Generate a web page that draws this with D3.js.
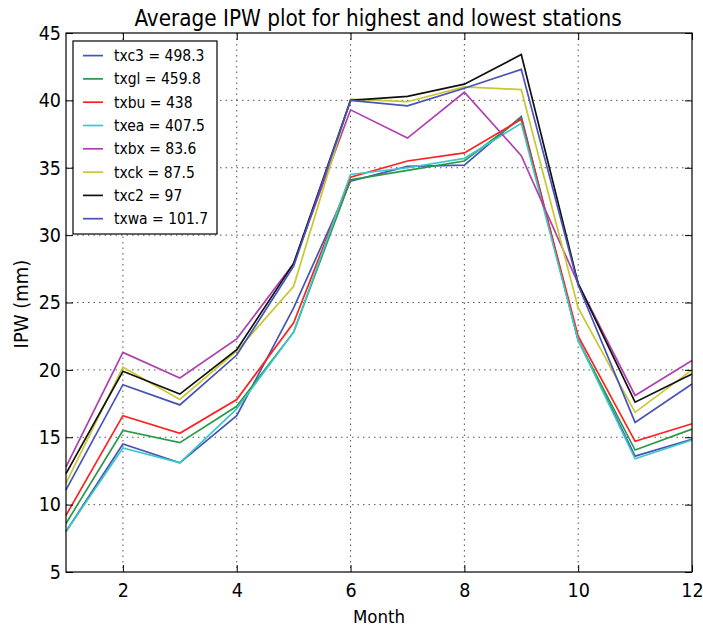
<!DOCTYPE html>
<html>
<head>
<meta charset="utf-8">
<script src="https://cdn.jsdelivr.net/npm/d3@7"></script>
<style>
  body { margin: 0; background: #fff; }
  text { font-family: "DejaVu Sans Condensed", "DejaVu Sans", sans-serif; }
</style>
</head>
<body>
<div class="chart"></div>
<script>
const months = [1, 2, 3, 4, 5, 6, 7, 8, 9, 10, 11, 12];
const stations = ["txc3 = 498.3", "txgl = 459.8", "txbu = 438", "txea = 407.5",
                  "txbx = 83.6", "txck = 87.5", "txc2 = 97", "txwa = 101.7"];
const colors = ["#4653b8", "#2a9a48", "#ff2020", "#3cc8c8", "#b040b0", "#c8c830", "#111111", "#4653b8"];

const txc3 = [8.0, 14.5, 13.1, 16.6, 24.6, 34.0, 35.1, 35.2, 38.8, 22.2, 13.6, 14.85];
const txgl = [8.6, 15.5, 14.6, 17.3, 22.8, 34.1, 34.8, 35.5, 38.7, 22.2, 14.05, 15.6];
const txbu = [9.2, 16.6, 15.3, 17.8, 23.5, 34.3, 35.5, 36.1, 38.6, 22.5, 14.7, 16.0];
const txea = [8.0, 14.2, 13.1, 17.1, 22.8, 34.5, 35.0, 35.7, 38.3, 22.2, 13.4, 14.8];
const txbx = [12.8, 21.3, 19.4, 22.3, 27.9, 39.3, 37.2, 40.6, 35.9, 26.4, 18.1, 20.7];
const txck = [11.6, 20.2, 17.8, 21.4, 26.2, 40.1, 39.9, 41.0, 40.8, 24.6, 16.85, 20.0];
const txc2 = [12.3, 19.9, 18.2, 21.5, 27.9, 40.0, 40.3, 41.2, 43.4, 26.4, 17.6, 19.7];
const txwa = [11.1, 18.9, 17.4, 21.1, 27.7, 40.0, 39.6, 40.9, 42.3, 26.3, 16.1, 18.95];
const series = [txc3, txgl, txbu, txea, txbx, txck, txc2, txwa];

const xTicks = [2, 4, 6, 8, 10, 12];
const yTicks = [5, 10, 15, 20, 25, 30, 35, 40, 45];

const W = 703, H = 626;
const margin = {top: 33, right: 11, bottom: 54, left: 66};
const w = W - margin.left - margin.right;
const h = H - margin.top - margin.bottom;

const svg = d3.select(".chart").append("svg")
    .attr("width", W).attr("height", H);
const g = svg.append("g")
    .attr("transform", `translate(${margin.left},${margin.top})`);

const x = d3.scaleLinear().domain([1, 12]).range([0, w]);
const y = d3.scaleLinear().domain([5, 45]).range([h, 0]);

// grid
g.append("g").selectAll("line").data(xTicks.slice(0, -1)).join("line")
    .attr("x1", d => x(d)).attr("x2", d => x(d)).attr("y1", 0).attr("y2", h)
    .attr("stroke", "#555").attr("stroke-dasharray", "1.5,4").attr("stroke-width", 1);
g.append("g").selectAll("line").data(yTicks.slice(1, -1)).join("line")
    .attr("y1", d => y(d)).attr("y2", d => y(d)).attr("x1", 0).attr("x2", w)
    .attr("stroke", "#555").attr("stroke-dasharray", "1.5,4").attr("stroke-width", 1);

// lines
const line = d3.line().x((d, i) => x(months[i])).y(d => y(d));
g.append("g").selectAll("path").data(series).join("path")
    .attr("fill", "none")
    .attr("stroke", (d, i) => colors[i])
    .attr("stroke-width", 1.7)
    .attr("d", line);

// axes (ticks inward, all four sides)
const xAxis = g.append("g").attr("transform", `translate(0,${h})`)
    .call(d3.axisBottom(x).tickValues(xTicks).tickSize(-7).tickPadding(11));
const yAxis = g.append("g")
    .call(d3.axisLeft(y).tickValues(yTicks).tickSize(-7).tickPadding(5));
g.append("g").call(d3.axisTop(x).tickValues(xTicks).tickSize(-7).tickFormat(""));
g.append("g").attr("transform", `translate(${w},0)`)
    .call(d3.axisRight(y).tickValues(yTicks).tickSize(-7).tickFormat(""));
g.selectAll(".domain").remove();
g.selectAll(".tick line").attr("stroke", "#000");
[xAxis, yAxis].forEach(a => a.selectAll("text")
    .attr("font-size", 19.5).attr("fill", "#000")
    .style("font-family", '"DejaVu Sans Condensed", "DejaVu Sans", sans-serif'));

g.append("rect").attr("width", w).attr("height", h)
    .attr("fill", "none").attr("stroke", "#000").attr("stroke-width", 1.2);

// titles
svg.append("text").attr("x", 378).attr("y", 26)
    .attr("text-anchor", "middle").attr("font-size", 22.3)
    .text("Average IPW plot for highest and lowest stations");
svg.append("text").attr("x", 379).attr("y", 623)
    .attr("text-anchor", "middle").attr("font-size", 18.5)
    .text("Month");
svg.append("text").attr("transform", "translate(28,304) rotate(-90)")
    .attr("text-anchor", "middle").attr("font-size", 20)
    .text("IPW (mm)");

// legend
const legend = svg.append("g").attr("transform", "translate(73,41)");
legend.append("rect").attr("width", 144).attr("height", 193)
    .attr("fill", "#fff").attr("stroke", "#000").attr("stroke-width", 1.2);
const items = legend.selectAll("g.item").data(stations).join("g")
    .attr("class", "item")
    .attr("transform", (d, i) => `translate(0,${14.6 + i * 23.3})`);
items.append("line").attr("x1", 10).attr("x2", 30)
    .attr("stroke", (d, i) => colors[i]).attr("stroke-width", 1.7);
items.append("text").attr("x", 41).attr("dy", "0.35em")
    .attr("font-size", 15.5).text(d => d);
</script>
</body>
</html>
